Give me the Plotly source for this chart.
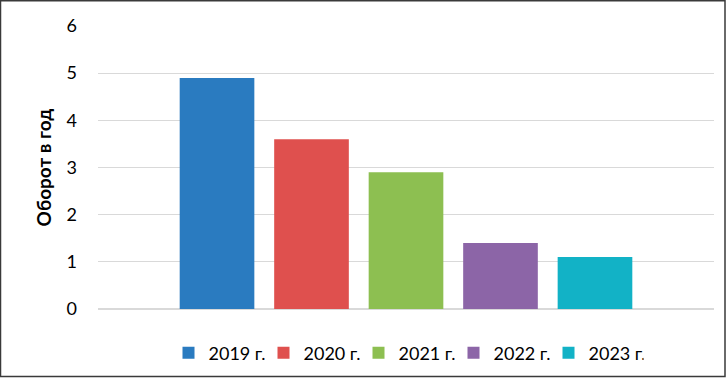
import plotly.graph_objects as go

years = ["2019 г.", "2020 г.", "2021 г.", "2022 г.", "2023 г."]
values = [4.9, 3.6, 2.9, 1.4, 1.1]
colors = ["#2A7BC0", "#DF504E", "#8DBF51", "#8C65A7", "#12B2C6"]
y_ticks = [0, 1, 2, 3, 4, 5, 6]

fig = go.Figure()
for name, v, c in zip(years, values, colors):
    fig.add_trace(go.Bar(x=[""], y=[v], name=name, marker=dict(color=c, line=dict(width=0))))

fig.update_layout(
    width=726, height=383,
    margin=dict(l=98, r=12, t=26, b=70),
    barmode="group", bargap=0.233, bargroupgap=0.21,
    plot_bgcolor="white", paper_bgcolor="white",
    font=dict(family="Lato, Open Sans, sans-serif", size=18, color="#000000"),
    showlegend=True,
    legend=dict(orientation="h", x=0.5, xanchor="center", y=-0.09, yanchor="top",
                font=dict(size=18), entrywidth=50, traceorder="normal"),
    xaxis=dict(showticklabels=False, showgrid=False, zeroline=False, showline=False),
    yaxis=dict(range=[0, 6], tickvals=y_ticks, showgrid=True, gridcolor="#D9D9D9", gridwidth=1,
               zeroline=True, zerolinecolor="#D9D9D9", ticks="", ticklabelstandoff=20,
               title=dict(text="<b>Оборот в год</b>", font=dict(size=19), standoff=9)),
)
fig.add_shape(type="rect", xref="paper", yref="paper", x0=-97.5/616, x1=1 + 11/616,
              y0=-68.5/287, y1=1 + 25.5/287, line=dict(color="#3A3A3A", width=1.5), layer="above")
fig.write_html(
    "out.html",
    config={"displayModeBar": False},
    post_script=(
        "var s=document.documentElement.style;s.margin='0';s.padding='0';s.overflow='hidden';"
        "var b=document.body.style;b.margin='0';b.padding='0';b.overflow='hidden';"
        "var gd=document.getElementById('{plot_id}');"
        "gd.style.position='fixed';gd.style.top='0px';gd.style.left='0px';"
    ),
)
